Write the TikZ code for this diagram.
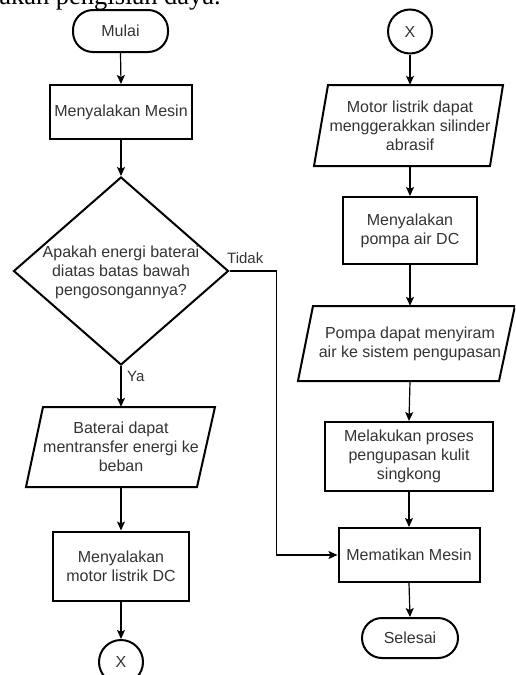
\documentclass[tikz,border=0pt]{standalone}
\usepackage{fontspec}
\setmainfont{Liberation Sans}
\newfontfamily\serifx{Liberation Serif}
\usetikzlibrary{shapes.geometric,arrows.meta,calc}
\definecolor{txt}{HTML}{333333}
\begin{document}
\begin{tikzpicture}[x=1pt,y=-1pt,
 base/.style={draw=black, line width=2pt, text=txt, font=\fontsize{16}{19}\selectfont, align=center, inner sep=0pt},
 boxs/.style={base, rectangle},
 term/.style={base, rectangle, rounded corners=20pt},
 conn/.style={draw=black, circle, line width=2pt, minimum size=44pt, inner sep=0pt, text=txt, font=\fontsize{16}{19}\selectfont},
 iotext/.style={text=txt, font=\fontsize{16}{19}\selectfont, align=center, inner sep=0pt},
 io/.style={draw=black, line width=2pt, line join=miter},
 arr/.style={draw=black, line width=1.2pt, -{Stealth[length=9pt,width=8pt,inset=2pt]}},
 lbl/.style={text=txt, font=\fontsize{15}{18}\selectfont, inner sep=0pt}
]
\useasboundingbox (0,0) rectangle (515,675);
\clip (0,0) rectangle (515,675);

\node[font=\serifx\fontsize{26.5}{30}\selectfont, anchor=base east, inner sep=0pt] (top) at (221,4) {akan pengisian daya.};

% left column
\node[term, minimum width=95pt, minimum height=42pt] (mulai) at (120.5,31) {Mulai};
\node[boxs, minimum width=142pt, minimum height=54pt] (b1) at (121,112) {Menyalakan Mesin};
\node[draw=black, diamond, line width=2pt, minimum width=215pt, minimum height=188pt, inner sep=0pt] (d) at (121,271) {};
\node[iotext] (dt) at (121,272) {Apakah energi baterai\\diatas batas bawah\\pengosongannya?};
\node[iotext, minimum width=172pt, minimum height=80pt] (p1) at (121,447) {Baterai dapat\\mentransfer energi ke\\beban};
\draw[io] ($(p1)+(-78,-40)$) -- ($(p1)+(94,-40)$) -- ($(p1)+(76,40)$) -- ($(p1)+(-95,40)$) -- cycle;
\node[boxs, minimum width=136pt, minimum height=69pt] (b2) at (121,566) {Menyalakan\\motor listrik DC};
\node[conn] (x1) at (121,662) {X};

% right column
\node[conn] (x2) at (410,31.5) {X};
\node[iotext, minimum width=176pt, minimum height=81pt] (p2) at (410,125.5) {Motor listrik dapat\\menggerakkan silinder\\abrasif};
\draw[io] ($(p2)+(-82,-40.5)$) -- ($(p2)+(93,-40.5)$) -- ($(p2)+(80,40.5)$) -- ($(p2)+(-96,40.5)$) -- cycle;
\node[boxs, minimum width=134pt, minimum height=67pt] (b3) at (410,230.5) {Menyalakan\\pompa air DC};
\node[iotext, minimum width=200pt, minimum height=75pt] (p3) at (410,343.5) {Pompa dapat menyiram\\air ke sistem pengupasan};
\draw[io] ($(p3)+(-97,-37.5)$) -- ($(p3)+(105,-37.5)$) -- ($(p3)+(89,37.5)$) -- ($(p3)+(-112,37.5)$) -- cycle;
\node[boxs, minimum width=168pt, minimum height=69pt] (b4) at (409,456.5) {Melakukan proses\\pengupasan kulit\\singkong};
\node[boxs, minimum width=141pt, minimum height=54pt] (b5) at (409,555) {Mematikan Mesin};
\node[term, minimum width=96pt, minimum height=40pt] (sel) at (410,638) {Selesai};

% labels
\node[lbl, anchor=west] (tidak) at (227,258) {Tidak};
\node[lbl, anchor=west] (ya) at (127,376) {Ya};

% connectors
\draw[arr] (mulai.south) -- (b1.north);
\draw[arr] (b1.south) -- (d.north);
\draw[arr] (d.south) -- (p1.north);
\draw[arr] (p1.south) -- (b2.north);
\draw[arr] (b2.south) -- (x1.north);
\draw[arr] (x2.south) -- (p2.north);
\draw[arr] (p2.south) -- (b3.north);
\draw[arr] (b3.south) -- (p3.north);
\draw[arr] (p3.south) -- (b4.north);
\draw[arr] (b4.south) -- (b5.north);
\draw[arr] (b5.south) -- (sel.north);
\draw[arr] (d.east) -- ++(47,0) |- (b5.west);
\end{tikzpicture}
\end{document}
